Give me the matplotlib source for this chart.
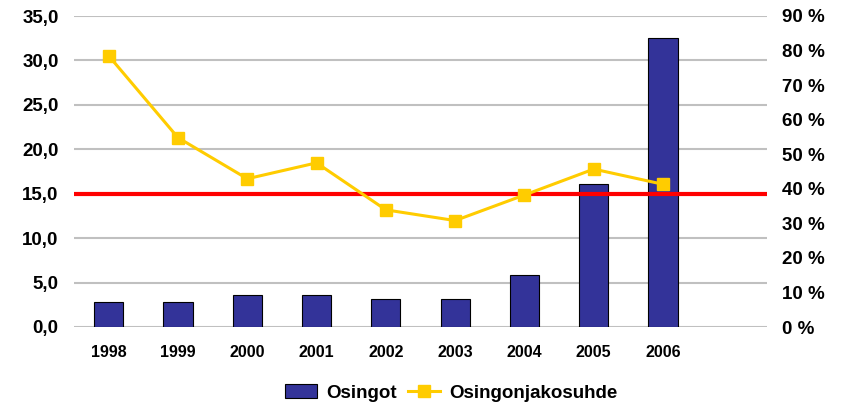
import matplotlib
matplotlib.use("Agg")
import matplotlib.pyplot as plt
from matplotlib.ticker import FuncFormatter, MultipleLocator
from matplotlib.lines import Line2D
from matplotlib.patches import Patch

plt.rcParams['font.family'] = ['Liberation Sans', 'DejaVu Sans']
plt.rcParams['font.weight'] = 'bold'

years = ['1998', '1999', '2000', '2001', '2002', '2003', '2004', '2005', '2006']
osingot = [2.8, 2.8, 3.6, 3.6, 3.2, 3.2, 5.9, 16.1, 32.5]          # left axis
jakosuhde = [78.5, 54.8, 42.9, 47.5, 33.9, 30.8, 38.2, 45.7, 41.3]   # right axis, %
raja = 15.0

navy = '#333399'
yellow = '#FFCC00'

fig = plt.figure(figsize=(8.41, 4.05), dpi=100)
ax = fig.add_axes([74/841, 1-327/405, 693/841, 311/405])
ax2 = ax.twinx()

x = list(range(len(years)))
ax.bar(x, osingot, width=0.42, color=navy, edgecolor='black', linewidth=0.8, zorder=3)
ax.axhline(raja, color='#FF0000', lw=3, zorder=4)

ax2.plot(x, jakosuhde, color=yellow, lw=2.2, marker='s', markersize=9,
         markeredgecolor=yellow, zorder=5)

ax.set_xlim(-0.5, 9.5)
ax.set_ylim(0, 35)
ax2.set_ylim(0, 90)
ax.yaxis.set_major_locator(MultipleLocator(5))
ax2.yaxis.set_major_locator(MultipleLocator(10))
ax.yaxis.set_major_formatter(FuncFormatter(lambda v, p: f'{v:.1f}'.replace('.', ',')))
ax2.yaxis.set_major_formatter(FuncFormatter(lambda v, p: f'{v:.0f} %'))

ax.set_xticks(x)
ax.set_xticklabels(years)
ax.grid(axis='y', color='#C0C0C0', lw=1.5, zorder=0)
ax.set_axisbelow(True)

for a in (ax, ax2):
    for s in a.spines.values():
        s.set_visible(False)
ax.tick_params(axis='both', length=0)
ax2.tick_params(axis='both', length=0)
ax.tick_params(axis='y', labelsize=13.5, pad=11)
ax.tick_params(axis='x', labelsize=11.5, pad=13)
ax2.tick_params(axis='y', labelsize=13.5, pad=11)

handles = [Patch(facecolor=navy, edgecolor='black', linewidth=0.8),
           Line2D([], [], color=yellow, lw=2.2, marker='s', markersize=9)]
fig.legend(handles, ['Osingot', 'Osingonjakosuhde'], loc='center', ncol=2,
           bbox_to_anchor=(451/841, 1-393/405), frameon=False,
           fontsize=13.5, handlelength=1.7, columnspacing=0.6, handletextpad=0.5)

fig.savefig('out.png', dpi=100)
